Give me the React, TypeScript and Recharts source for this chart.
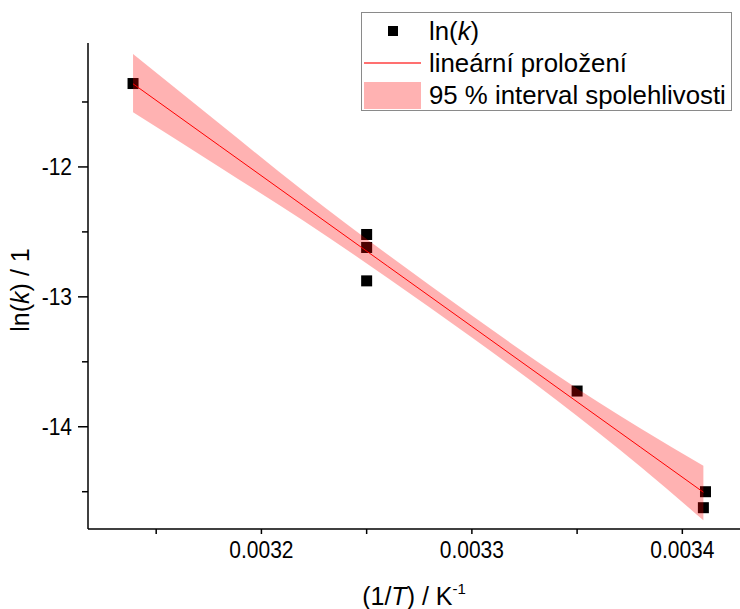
import { ComposedChart, Scatter, Area, Line, XAxis, YAxis, Legend } from 'recharts'

// measured points: 1/T in K^-1, ln(k)
const invT = [0.003139, 0.00325, 0.00325, 0.00325, 0.00335, 0.003411, 0.00341]
const lnK = [-11.358, -12.52, -12.62, -12.877, -13.725, -14.5, -14.623]

// linear fit and 95 % band
const fitInvT = [0.003139, 0.00318, 0.00322, 0.00326, 0.0033, 0.00334, 0.00338, 0.00341]
const fitLnK = [-11.36, -11.836, -12.3, -12.764, -13.228, -13.692, -14.156, -14.504]
const bandHigh = [-11.13, -11.666, -12.185, -12.674, -13.143, -13.597, -14.011, -14.3]
const bandLow = [-11.58, -12.001, -12.415, -12.854, -13.313, -13.792, -14.306, -14.72]

const xMajor = [0.0032, 0.0033, 0.0034]
const xMinor = [0.00315, 0.00325, 0.00335]
const yMajor = [-14, -13, -12]
const yMinor = [-14.5, -13.5, -12.5, -11.5]

const FONT = '"Liberation Sans", Arial, sans-serif'
const RED = '#ff0000'
const BAND = 'rgba(255, 0, 0, 0.3)'

const points = invT.map((x, i) => ({ x, y: lnK[i] }))
const fitData = fitInvT.map((x, i) => ({ x, fit: fitLnK[i], band: [bandLow[i], bandHigh[i]] }))

const isMajor = (v: number, list: number[]) => list.some((m) => Math.abs(m - v) < 1e-9)

// tick text in the source is a bit taller than its width suggests
function TallText({ x, y, anchor, children }: any) {
  return (
    <text
      x={x}
      y={y}
      textAnchor={anchor}
      fontSize={21}
      fontFamily={FONT}
      fill="#000"
      transform={`translate(0 ${y}) scale(1 1.1) translate(0 ${-y})`}
    >
      {children}
    </text>
  )
}

function XTick({ x, y, payload }: any) {
  const major = isMajor(payload.value, xMajor)
  return (
    <g>
      <line x1={x} x2={x} y1={y} y2={y + 5} stroke="#000" strokeWidth={1.5} />
      {major && (
        <TallText x={x} y={y + 29} anchor="middle">
          {payload.value.toFixed(4)}
        </TallText>
      )}
    </g>
  )
}

function YTick({ x, y, payload }: any) {
  const major = isMajor(payload.value, yMajor)
  return (
    <g>
      <line x1={x - (major ? 10 : 6)} x2={x} y1={y} y2={y} stroke="#000" strokeWidth={1.5} />
      {major && (
        <TallText x={x - 16} y={y + 8} anchor="end">
          {payload.value}
        </TallText>
      )}
    </g>
  )
}

function XTitle({ viewBox }: any) {
  const cx = viewBox.x + viewBox.width / 2
  return (
    <text x={cx} y={viewBox.y + 76} textAnchor="middle" fontSize={25} fontFamily={FONT} fill="#000">
      (1/<tspan fontStyle="italic">T</tspan>) / K
      <tspan fontSize={15} dy={-11}>-1</tspan>
    </text>
  )
}

function YTitle() {
  return (
    <text x={29} y={290} transform="rotate(-90 29 290)" textAnchor="middle" fontSize={25} fontFamily={FONT} fill="#000">
      ln(<tspan fontStyle="italic">k</tspan>) / 1
    </text>
  )
}

function SquareDot({ cx, cy }: any) {
  return <rect x={cx - 5.5} y={cy - 5.5} width={11} height={11} fill="#000" />
}

function LegendBox() {
  const row = { display: 'flex', alignItems: 'center', height: 32 }
  const icon = { width: 57, height: 32, marginRight: 8, display: 'flex', alignItems: 'center', justifyContent: 'center' }
  return (
    <div
      style={{
        border: '1px solid #8a8a8a',
        background: '#fff',
        width: 367,
        height: 95,
        paddingTop: 2,
        paddingLeft: 2,
        boxSizing: 'content-box',
        fontFamily: FONT,
        fontSize: 25.8,
        color: '#000',
        lineHeight: '32px',
        whiteSpace: 'nowrap',
      }}
    >
      <div style={row}>
        <div style={icon}>
          <div style={{ width: 10, height: 10, background: '#000' }} />
        </div>
        <span>
          ln(<i>k</i>)
        </span>
      </div>
      <div style={row}>
        <div style={icon}>
          <div style={{ width: 57, height: 1.5, background: '#ff7070' }} />
        </div>
        <span>lineární proložení</span>
      </div>
      <div style={row}>
        <div style={icon}>
          <div style={{ width: 57, height: 27, background: BAND }} />
        </div>
        <span>95 % interval spolehlivosti</span>
      </div>
    </div>
  )
}

export default function App() {
  return (
    <div style={{ position: 'absolute', left: 0, top: 0, background: '#fff' }}>
      <ComposedChart
        width={740}
        height={609}
        data={fitData}
        margin={{ top: 43, right: 0, bottom: 0, left: 0 }}
      >
        <XAxis
          dataKey="x"
          type="number"
          domain={[0.0031176, 0.0034274]}
          allowDataOverflow
          ticks={[...xMinor, ...xMajor].sort((a, b) => a - b)}
          tick={<XTick />}
          tickLine={false}
          tickSize={0}
          tickMargin={0}
          interval={0}
          height={80}
          axisLine={{ stroke: '#000', strokeWidth: 1.5 }}
          label={<XTitle />}
        />
        <YAxis
          type="number"
          domain={[-14.787, -11.046]}
          allowDataOverflow
          ticks={[...yMinor, ...yMajor].sort((a, b) => a - b)}
          tick={<YTick />}
          tickLine={false}
          tickSize={0}
          tickMargin={0}
          interval={0}
          width={88}
          axisLine={{ stroke: '#000', strokeWidth: 1.5 }}
          label={<YTitle />}
        />
        <Scatter data={points} dataKey="y" shape={<SquareDot />} isAnimationActive={false} zIndex={50} />
        <Area
          dataKey="band"
          type="monotone"
          fill={BAND}
          fillOpacity={1}
          stroke="none"
          isAnimationActive={false}
          dot={false}
          activeDot={false}
          zIndex={700}
        />
        <Line
          dataKey="fit"
          type="linear"
          stroke={RED}
          strokeWidth={1}
          dot={false}
          activeDot={false}
          isAnimationActive={false}
          zIndex={710}
        />
        <Legend
          layout="vertical"
          align="center"
          verticalAlign="middle"
          content={() => <LegendBox />}
          wrapperStyle={{ left: 361, top: 12, width: 'auto', height: 'auto' }}
        />
      </ComposedChart>
    </div>
  )
}
